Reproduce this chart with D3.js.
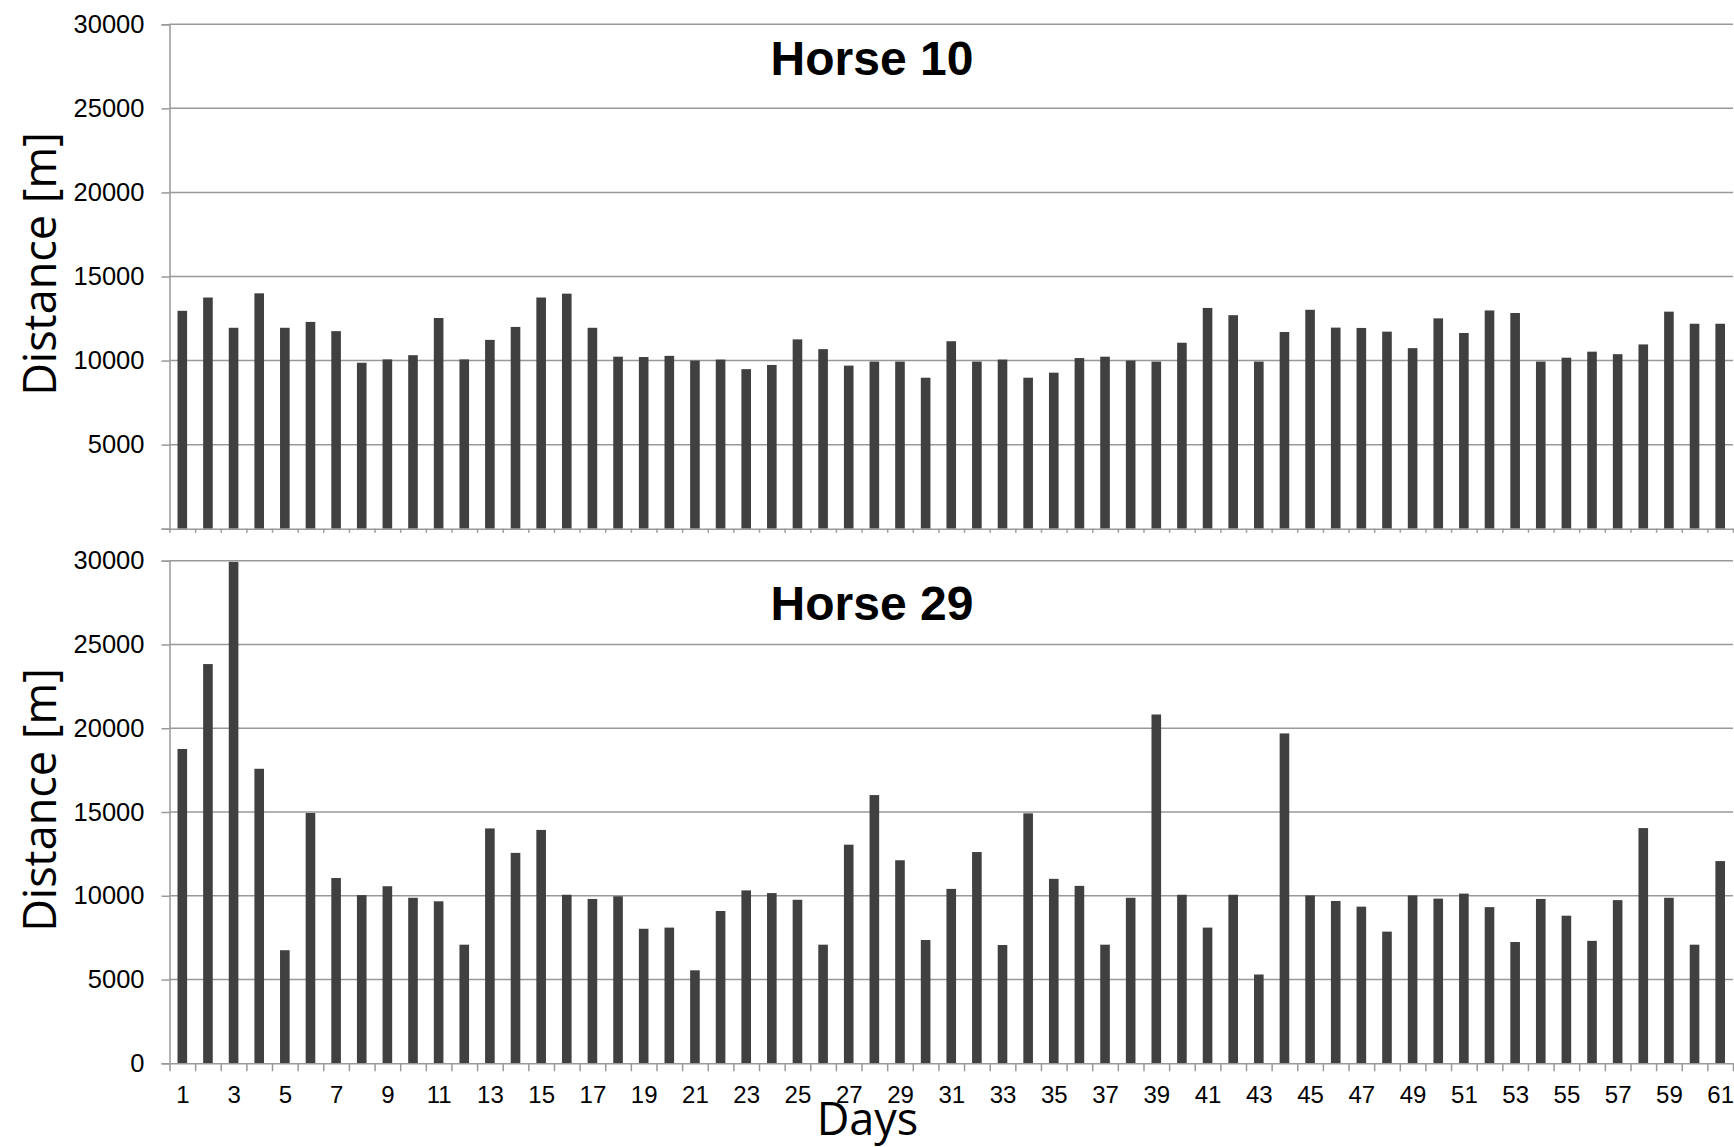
<!DOCTYPE html>
<html>
<head>
<meta charset="utf-8">
<script src="https://cdn.jsdelivr.net/npm/d3@7"></script>
<style>
  html, body { margin: 0; padding: 0; background: #fff; }
  svg { display: block; }
</style>
</head>
<body>
<svg id="chart" width="1734" height="1147"></svg>
<script>
// ---- data ----
const days = d3.range(1, 62);
const horse10 = [
  12960, 13750, 11950, 14000, 11950, 12300, 11750, 9870, 10070, 10320,
  12530, 10070, 11230, 12000, 13750, 13980, 11950, 10230, 10210, 10280,
  10000, 10060, 9490, 9740, 11260, 10680, 9700, 9940, 9940, 8980,
  11150, 9940, 10060, 8980, 9280, 10150, 10230, 10000, 9940, 11060,
  13130, 12700, 9940, 11700, 13020, 11960, 11940, 11720, 10740, 12510,
  11640, 12980, 12830, 9940, 10170, 10530, 10380, 10960, 12910, 12190,
  12190
];
const horse29 = [
  18760, 23830, 29930, 17580, 6750, 14940, 11060, 10040, 10570, 9880,
  9670, 7080, 14020, 12560, 13930, 10060, 9810, 9970, 8030, 8100,
  5550, 9090, 10320, 10160, 9760, 7080, 13050, 16010, 12120, 7360,
  10410, 12610, 7060, 14920, 11010, 10590, 7080, 9880, 20820, 10060,
  8100, 10060, 5300, 19690, 10020, 9690, 9350, 7860, 10020, 9830,
  10130, 9320, 7240, 9810, 8810, 7310, 9740, 14040, 9880, 7080,
  12070
];
const yTicks = [0, 5000, 10000, 15000, 20000, 25000, 30000];
const xLabelDays = days.filter(d => d % 2 === 1);
const panelTitles = ["Horse 10", "Horse 29"];
const yTitle = "Distance [m]";
const xTitle = "Days";

// ---- layout ----
const svg = d3.select("#chart");
const x0 = 169.5, x1 = 1733;
const panels = [
  { title: panelTitles[0], values: horse10, yBottom: 528.7, yTop: 24.3, showZero: false, showX: false, tickLen: 4, titleY: 75, yTitleC: 264 },
  { title: panelTitles[1], values: horse29, yBottom: 1063.3, yTop: 560.7, showZero: true, showX: true, tickLen: 8, titleY: 620, yTitleC: 800 }
];

const xBand = d3.scaleBand().domain(days).range([x0, x1]).paddingInner(0.625).paddingOuter(0.3125);
const xLin = d3.scaleLinear().domain([0.5, 61.5]).range([x0, x1]);
const boundaries = d3.range(0.5, 62, 1);

const gridColor = "#999999";
const barColor = "#404040";

panels.forEach(p => {
  const y = d3.scaleLinear().domain([0, 30000]).range([p.yBottom, p.yTop]);
  const g = svg.append("g");

  // gridlines
  g.append("g").selectAll("line")
    .data(yTicks.filter(t => t > 0))
    .join("line")
    .attr("x1", x0).attr("x2", x1)
    .attr("y1", d => y(d)).attr("y2", d => y(d))
    .attr("stroke", gridColor).attr("stroke-width", 1.5);

  // bars
  g.append("g").selectAll("rect")
    .data(days)
    .join("rect")
    .attr("x", d => xBand(d))
    .attr("width", xBand.bandwidth())
    .attr("y", (d, i) => y(p.values[i]))
    .attr("height", (d, i) => y(0) - y(p.values[i]))
    .attr("fill", barColor);

  // y axis
  const yAxis = d3.axisLeft(y)
    .tickValues(yTicks)
    .tickSize(8)
    .tickPadding(17)
    .tickFormat(d => (d === 0 && !p.showZero) ? "" : String(d));
  const ya = g.append("g").attr("transform", `translate(${x0},0)`).call(yAxis);
  ya.select(".domain").attr("stroke", gridColor).attr("stroke-width", 1.5);
  ya.selectAll(".tick line").attr("stroke", gridColor).attr("stroke-width", 1.5);
  ya.selectAll(".tick text")
    .attr("font-family", "'Liberation Sans', Arial, sans-serif")
    .attr("font-size", 25.5)
    .attr("fill", "#000");

  // x axis (ticks at category boundaries)
  const xAxis = d3.axisBottom(xLin)
    .tickValues(boundaries)
    .tickSize(p.tickLen)
    .tickSizeOuter(0)
    .tickFormat("");
  const xa = g.append("g").attr("transform", `translate(0,${y(0)})`).call(xAxis);
  xa.select(".domain").attr("stroke", gridColor).attr("stroke-width", 1.5);
  xa.selectAll(".tick line").attr("stroke", gridColor).attr("stroke-width", 1.5);

  if (p.showX) {
    const lab = d3.axisBottom(xLin)
      .tickValues(xLabelDays)
      .tickSize(0)
      .tickPadding(23)
      .tickFormat(d => String(d));
    const la = g.append("g").attr("transform", `translate(0,${y(0)})`).call(lab);
    la.select(".domain").remove();
    la.selectAll(".tick text")
      .attr("font-family", "'Liberation Sans', Arial, sans-serif")
      .attr("font-size", 24)
      .attr("fill", "#000");
  }

  // panel title
  g.append("text")
    .attr("x", 872).attr("y", p.titleY)
    .attr("text-anchor", "middle")
    .attr("font-family", "'Liberation Sans', Arial, sans-serif")
    .attr("font-weight", "bold")
    .attr("font-size", 48)
    .attr("fill", "#000")
    .text(p.title);

  // y title
  g.append("text")
    .attr("transform", `translate(56,${p.yTitleC}) rotate(-90)`)
    .attr("text-anchor", "middle")
    .attr("font-family", "'Open Sans', sans-serif")
    .attr("font-size", 45)
    .attr("fill", "#000")
    .text(yTitle);
});

// x title
svg.append("text")
  .attr("x", 867.5).attr("y", 1135)
  .attr("text-anchor", "middle")
  .attr("font-family", "'Open Sans', sans-serif")
  .attr("font-size", 45)
  .attr("fill", "#000")
  .text(xTitle);
</script>
</body>
</html>
